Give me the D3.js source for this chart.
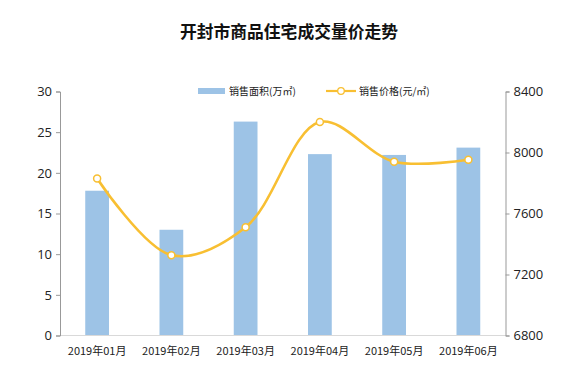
<!DOCTYPE html>
<html><head><meta charset="utf-8">
<script src="https://cdn.jsdelivr.net/npm/d3@7"></script>
<style>body{margin:0;background:#fff;}svg{display:block;font-family:"Microsoft YaHei","Noto Sans CJK SC",sans-serif;}</style>
</head><body>
<svg id="c" width="588" height="373"></svg>
<script>
const categories = ["2019年01月","2019年02月","2019年03月","2019年04月","2019年05月","2019年06月"];
const areaValues = [17.8, 13.0, 26.3, 22.3, 22.2, 23.1];
const priceValues = [7830, 7327, 7510, 8200, 7940, 7952];
const leftTicks = [0,5,10,15,20,25,30];
const rightTicks = [6800,7200,7600,8000,8400];
const title = "开封市商品住宅成交量价走势";
const legendBar = "销售面积(万㎡)";
const legendLine = "销售价格(元/㎡)";

const svg = d3.select("#c");
const L = 60, R = 505.5, T = 91.5, B = 335.5;
const x = d3.scaleBand().domain(categories).range([L, R]).paddingInner(0.68).paddingOuter(0.34);
const y = d3.scaleLinear().domain([0,30]).range([B, T]);
const y2 = d3.scaleLinear().domain([6800,8400]).range([B, T]);
const barColor = "#9dc3e6", lineColor = "#f8bf32";

svg.append("text").attr("x", 289).attr("y", 38).attr("text-anchor","middle")
  .attr("font-size", 16.8).attr("font-weight","bold").attr("fill","#111").text(title);

// bars
svg.append("g").selectAll("rect").data(areaValues).join("rect")
  .attr("x", (d,i)=>x(categories[i])).attr("width", x.bandwidth())
  .attr("y", d=>y(d)).attr("height", d=>B - y(d)).attr("fill", barColor);

// x axis line
svg.append("line").attr("x1", L).attr("x2", R).attr("y1", B).attr("y2", B).attr("stroke","#d9d9d9");
svg.append("g").selectAll("text").data(categories).join("text")
  .attr("x", d=>x(d)+x.bandwidth()/2).attr("y", 355).attr("text-anchor","middle")
  .attr("font-size", 11).attr("fill","#222").text(d=>d);

// left axis
const la = svg.append("g").attr("transform",`translate(${L},0)`)
  .call(d3.axisLeft(y).tickValues(leftTicks).tickSize(4).tickPadding(4));
la.select(".domain").attr("stroke","#999");
la.selectAll(".tick line").attr("stroke","#999");
la.selectAll(".tick text").attr("font-size", 13).attr("fill","#222").attr("font-family","'Segoe UI','Open Sans',sans-serif");

// right axis
const ra = svg.append("g").attr("transform",`translate(${R},0)`)
  .call(d3.axisRight(y2).tickValues(rightTicks).tickSize(4).tickPadding(4).tickFormat(d3.format("d")));
ra.select(".domain").attr("stroke","#999");
ra.selectAll(".tick line").attr("stroke","#999");
ra.selectAll(".tick text").attr("font-size", 13).attr("fill","#222").attr("font-family","'Segoe UI','Open Sans',sans-serif");

// line
const pts = priceValues.map((v,i)=>[x(categories[i])+x.bandwidth()/2, y2(v)]);
svg.append("path").attr("d", d3.line().curve(d3.curveCatmullRom.alpha(0.5))(pts))
  .attr("fill","none").attr("stroke", lineColor).attr("stroke-width", 2.6);
svg.append("g").selectAll("circle").data(pts).join("circle")
  .attr("cx", d=>d[0]).attr("cy", d=>d[1]).attr("r", 3.5)
  .attr("fill","#fff").attr("stroke", lineColor).attr("stroke-width", 1.5);

// legend
const lg = svg.append("g");
lg.append("rect").attr("x",198).attr("y",88).attr("width",27).attr("height",6).attr("fill",barColor);
lg.append("text").attr("x",229).attr("y",95).attr("font-size",10).attr("fill","#222").text(legendBar);
lg.append("line").attr("x1",326).attr("x2",356).attr("y1",91).attr("y2",91).attr("stroke",lineColor).attr("stroke-width",2.2);
lg.append("circle").attr("cx",341).attr("cy",91).attr("r",3.3).attr("fill","#fff").attr("stroke",lineColor).attr("stroke-width",1.3);
lg.append("text").attr("x",359).attr("y",95).attr("font-size",10).attr("fill","#222").text(legendLine);
</script>
</body></html>
